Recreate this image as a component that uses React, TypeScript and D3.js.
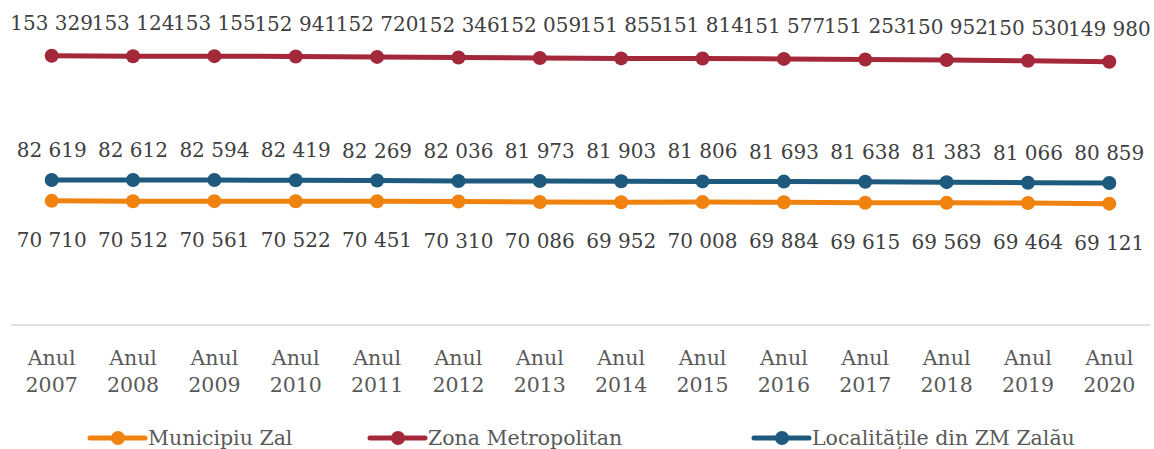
import React from 'react';
import * as d3 from 'd3';

const years = ['2007', '2008', '2009', '2010', '2011', '2012', '2013', '2014', '2015', '2016', '2017', '2018', '2019', '2020'];
const municipiu = [70710, 70512, 70561, 70522, 70451, 70310, 70086, 69952, 70008, 69884, 69615, 69569, 69464, 69121];
const zonaMetro = [153329, 153124, 153155, 152941, 152720, 152346, 152059, 151855, 151814, 151577, 151253, 150952, 150530, 149980];
const localitati = [82619, 82612, 82594, 82419, 82269, 82036, 81973, 81903, 81806, 81693, 81638, 81383, 81066, 80859];

const W = 1154;
const H = 449;
const FONT = '"DejaVu Serif", serif';

const series = [
  { name: 'Municipiu Zal', values: municipiu, color: '#F0820F', labelDy: 46, legendX: 90 },
  { name: 'Zona Metropolitan', values: zonaMetro, color: '#A3283A', labelDy: -26, legendX: 370 },
  { name: 'Localitățile din ZM Zalău', values: localitati, color: '#1E5A7E', labelDy: -23, legendX: 754 },
];

const fmt = (v: number) => d3.format(',')(v).replace(/,/g, ' ');

export default function App() {
  const x = d3.scaleBand().domain(years).range([11, 1150]);
  const y = d3.scaleLinear().domain([0, 180000]).range([325, 9]);
  const cx = (i: number) => (x(years[i]) as number) + x.bandwidth() / 2;

  const line = d3
    .line<number>()
    .x((_, i) => cx(i))
    .y((d) => y(d));

  return (
    <svg width={W} height={H} style={{ position: 'absolute', left: 0, top: 0, background: '#fff' }}>
      <line x1={11} x2={1150} y1={y(0)} y2={y(0)} stroke="#d9d9d9" strokeWidth={1.5} />
      {years.map((yr, i) => (
        <text key={yr} x={cx(i)} textAnchor="middle" fontFamily={FONT} fontSize={20.5} fill="#595959">
          <tspan x={cx(i)} y={365}>Anul</tspan>
          <tspan x={cx(i)} y={392}>{yr}</tspan>
        </text>
      ))}
      {series.map((s) => (
        <g key={s.name}>
          <path d={line(s.values) as string} fill="none" stroke={s.color} strokeWidth={5} strokeLinejoin="round" />
          {s.values.map((v, i) => (
            <circle key={i} cx={cx(i)} cy={y(v)} r={7} fill={s.color} />
          ))}
          {s.values.map((v, i) => (
            <text
              key={'t' + i}
              x={cx(i)}
              y={y(v) + s.labelDy}
              textAnchor="middle"
              fontFamily={FONT}
              fontSize={20}
              fill="#404040"
            >
              {fmt(v)}
            </text>
          ))}
        </g>
      ))}
      {series.map((s) => (
        <g key={'lg' + s.name}>
          <line x1={s.legendX} x2={s.legendX + 55} y1={438} y2={438} stroke={s.color} strokeWidth={5} strokeLinecap="round" />
          <circle cx={s.legendX + 28} cy={438} r={7} fill={s.color} />
          <text x={s.legendX + 58} y={445} fontFamily={FONT} fontSize={20.5} fill="#595959">
            {s.name}
          </text>
        </g>
      ))}
    </svg>
  );
}
